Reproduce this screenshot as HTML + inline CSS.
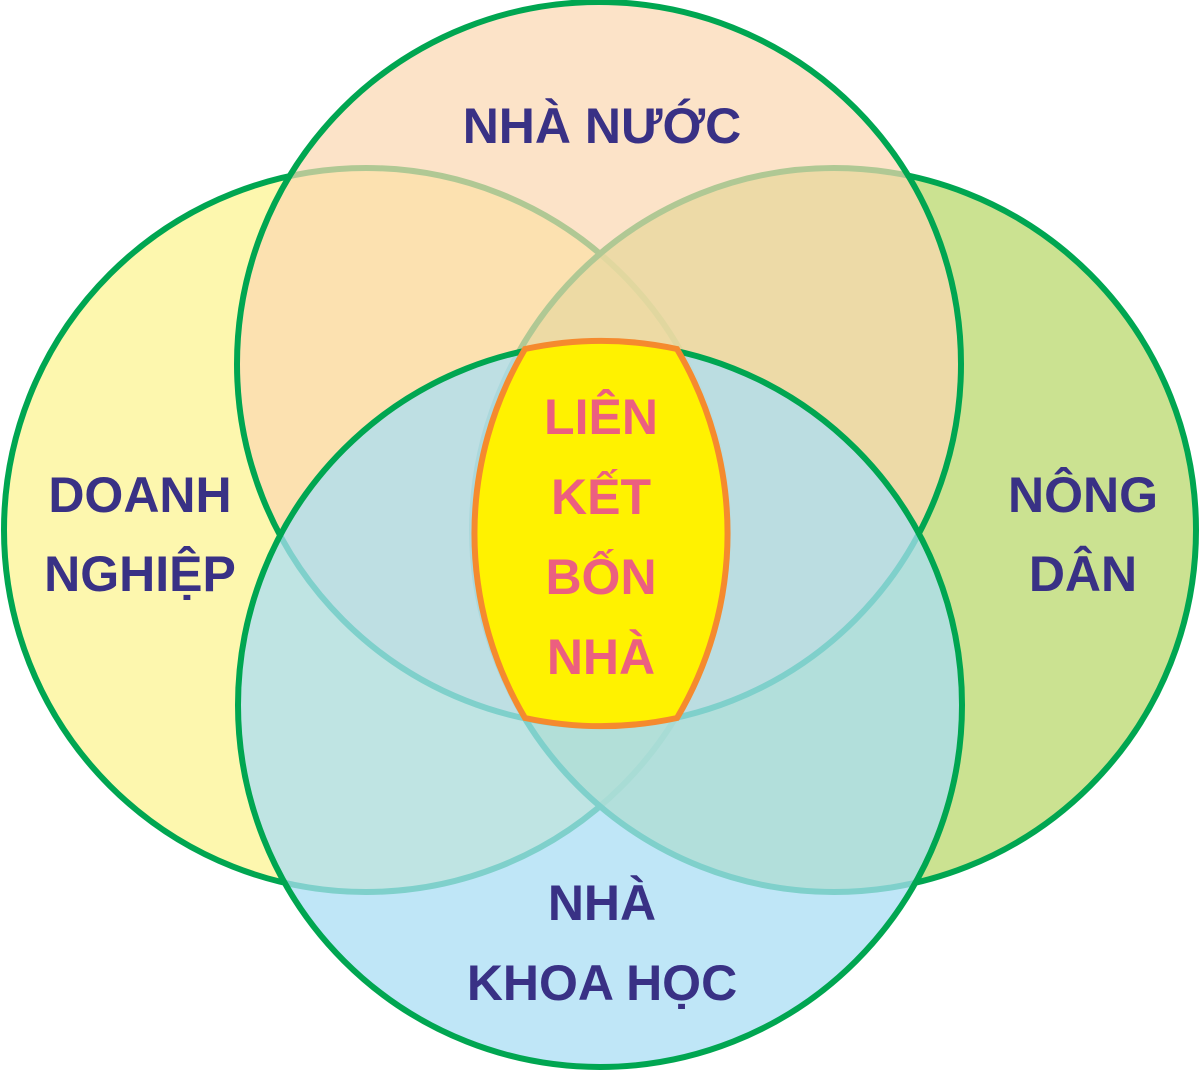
<!DOCTYPE html>
<html><head><meta charset="utf-8"><style>
html,body{margin:0;padding:0;background:#fff;}
svg{display:block;}
text{font-family:"Liberation Sans",Arial,sans-serif;font-weight:bold;}
</style></head><body>
<svg width="1200" height="1073" viewBox="0 0 1200 1073" xmlns="http://www.w3.org/2000/svg">
<g stroke="#00a651" stroke-width="6">
<circle cx="366" cy="530" r="362" fill="#fdf6a0" fill-opacity="0.85"/>
<circle cx="834" cy="530" r="362" fill="#c2dd7e" fill-opacity="0.85"/>
<circle cx="599" cy="364" r="362" fill="#fbd7b0" fill-opacity="0.7"/>
<circle cx="600" cy="705" r="362" fill="#a9def4" fill-opacity="0.75"/>
</g>
<path d="M525,349 A362,362 0 0 1 677,349 A362,362 0 0 1 677,718 A362,362 0 0 1 525,718 A362,362 0 0 1 525,349 Z" fill="#fff200" stroke="#f58a2e" stroke-width="6"/>
<g fill="#393185" font-size="50" text-anchor="middle">
<text x="602" y="143">NHÀ NƯỚC</text>
<text x="140" y="512">DOANH</text>
<text x="140" y="591">NGHIỆP</text>
<text x="1083" y="512">NÔNG</text>
<text x="1083" y="591">DÂN</text>
<text x="602" y="920">NHÀ</text>
<text x="602" y="1000">KHOA HỌC</text>
</g>
<g fill="#ec5f80" font-size="50" text-anchor="middle">
<text x="601" y="434">LIÊN</text>
<text x="601" y="514">KẾT</text>
<text x="601" y="594">BỐN</text>
<text x="601" y="674">NHÀ</text>
</g>
</svg>
</body></html>
